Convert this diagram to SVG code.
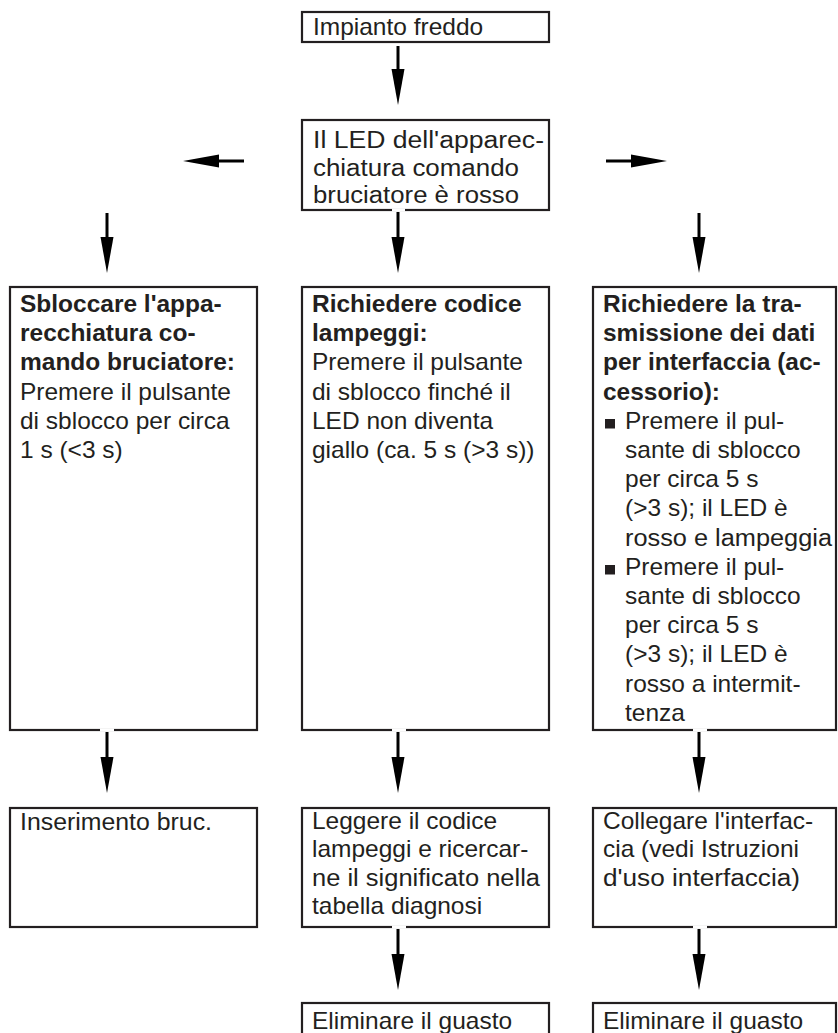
<svg xmlns="http://www.w3.org/2000/svg" width="838" height="1033" viewBox="0 0 838 1033">
<style>
.box{fill:#fff;stroke:#231f20;stroke-width:2.2}
.t{font-family:"Liberation Sans",Arial,Helvetica,sans-serif;font-size:23px;fill:#231f20}
.b{font-weight:bold}
.conn{stroke:#000;stroke-width:3;fill:none;marker-end:url(#ah)}
.gap{fill:#fff}
.sq{fill:#231f20}
</style>
<defs>
<marker id="ah" markerUnits="userSpaceOnUse" markerWidth="36" markerHeight="14" refX="16" refY="7" orient="auto" viewBox="0 0 36 14">
<path d="M0,0.5 L36,7 L0,13.5 Z" fill="#000"/>
</marker>
</defs>
<rect width="838" height="1033" fill="#fff"/>

<g id="n-start">
<rect class="box" x="302" y="12" width="247" height="30"/>
<text class="t" transform="translate(313,0) scale(1.065,1)"><tspan x="0" y="35">Impianto freddo</tspan></text>
</g>

<g id="n-led">
<rect class="box" x="302" y="120" width="247" height="90"/>
<text class="t" x="313" y="148" textLength="231" lengthAdjust="spacingAndGlyphs">Il LED dell'apparec-</text>
<text class="t" x="313" y="175.5" textLength="206" lengthAdjust="spacingAndGlyphs">chiatura comando</text>
<text class="t" x="313" y="203" textLength="206" lengthAdjust="spacingAndGlyphs">bruciatore è rosso</text>
</g>

<g id="n-unlock">
<rect class="box" x="10" y="287" width="247" height="443"/>
<text class="t" transform="translate(20,0) scale(1.065,1)"><tspan class="b" x="0" y="312">Sbloccare l'appa-</tspan><tspan class="b" x="0" y="341.2">recchiatura co-</tspan><tspan class="b" x="0" y="370.4">mando bruciatore:</tspan><tspan x="0" y="399.6">Premere il pulsante</tspan><tspan x="0" y="428.8">di sblocco per circa</tspan><tspan x="0" y="458">1 s (&lt;3 s)</tspan></text>
</g>

<g id="n-blink">
<rect class="box" x="302" y="287" width="247" height="443"/>
<text class="t" transform="translate(312,0) scale(1.065,1)"><tspan class="b" x="0" y="312">Richiedere codice</tspan><tspan class="b" x="0" y="341.2">lampeggi:</tspan><tspan x="0" y="370.4">Premere il pulsante</tspan><tspan x="0" y="399.6">di sblocco finché il</tspan><tspan x="0" y="428.8">LED non diventa</tspan><tspan x="0" y="458">giallo (ca. 5 s (&gt;3 s))</tspan></text>
</g>

<g id="n-data">
<rect class="box" x="593" y="287" width="243" height="443"/>
<rect class="sq" x="605" y="419" width="10" height="9.5"/>
<rect class="sq" x="605" y="565" width="10" height="9.5"/>
<text class="t" transform="translate(603,0) scale(1.065,1)"><tspan class="b" x="0" y="312">Richiedere la tra-</tspan><tspan class="b" x="0" y="341.2">smissione dei dati</tspan><tspan class="b" x="0" y="370.4">per interfaccia (ac-</tspan><tspan class="b" x="0" y="399.6">cessorio):</tspan><tspan x="20.7" y="428.8">Premere il pul-</tspan><tspan x="20.7" y="458">sante di sblocco</tspan><tspan x="20.7" y="487.2">per circa 5 s</tspan><tspan x="20.7" y="516.4">(&gt;3 s); il LED è</tspan><tspan x="20.7" y="574.8">Premere il pul-</tspan><tspan x="20.7" y="604">sante di sblocco</tspan><tspan x="20.7" y="633.2">per circa 5 s</tspan><tspan x="20.7" y="662.4">(&gt;3 s); il LED è</tspan><tspan x="20.7" y="691.6">rosso a intermit-</tspan><tspan x="20.7" y="720.8">tenza</tspan></text>
<text class="t" x="625" y="545.6" textLength="207" lengthAdjust="spacingAndGlyphs">rosso e lampeggia</text>
</g>

<g id="n-ignition">
<rect class="box" x="10" y="808" width="247" height="119"/>
<text class="t" x="20" y="830" textLength="192" lengthAdjust="spacingAndGlyphs">Inserimento bruc.</text>
</g>

<g id="n-read">
<rect class="box" x="302" y="808" width="247" height="119"/>
<text class="t" transform="translate(312,0) scale(1.065,1)"><tspan x="0" y="829">Leggere il codice</tspan><tspan x="0" y="857.5">lampeggi e ricercar-</tspan><tspan x="0" y="914.5">tabella diagnosi</tspan></text>
<text class="t" x="312" y="886" textLength="228" lengthAdjust="spacingAndGlyphs">ne il significato nella</text>
</g>

<g id="n-connect">
<rect class="box" x="593" y="808" width="243" height="119"/>
<text class="t" transform="translate(603,0) scale(1.065,1)"><tspan x="0" y="829">Collegare l'interfac-</tspan><tspan x="0" y="857.5">cia (vedi Istruzioni</tspan></text>
<text class="t" x="603" y="886" textLength="197" lengthAdjust="spacingAndGlyphs">d'uso interfaccia)</text>
</g>

<g id="n-fix1">
<rect class="box" x="302" y="1003" width="247" height="40"/>
<text class="t" transform="translate(312,0) scale(1.065,1)"><tspan x="0" y="1029">Eliminare il guasto</tspan></text>
</g>

<g id="n-fix2">
<rect class="box" x="593" y="1003" width="243" height="40"/>
<text class="t" transform="translate(603,0) scale(1.065,1)"><tspan x="0" y="1029">Eliminare il guasto</tspan></text>
</g>

<g id="connectors">
<path class="conn" d="M398,46 L398,85"/>
<rect class="gap" x="392" y="208.5" width="13" height="3"/>
<path class="conn" d="M398,212 L398,253"/>
<path class="conn" d="M107,213 L107,253"/>
<path class="conn" d="M699,213 L699,253"/>
<path class="conn" d="M244,161 L203,161"/>
<path class="conn" d="M606,161 L647,161"/>
<rect class="gap" x="100" y="728.5" width="14" height="3"/>
<rect class="gap" x="392" y="728.5" width="14" height="3"/>
<rect class="gap" x="693" y="728.5" width="14" height="3"/>
<path class="conn" d="M107,732 L107,773"/>
<path class="conn" d="M398,732 L398,773"/>
<path class="conn" d="M699,732 L699,773"/>
<rect class="gap" x="392" y="925.5" width="14" height="3"/>
<rect class="gap" x="693" y="925.5" width="14" height="3"/>
<path class="conn" d="M398,929 L398,970"/>
<path class="conn" d="M699,929 L699,970"/>
</g>
</svg>
